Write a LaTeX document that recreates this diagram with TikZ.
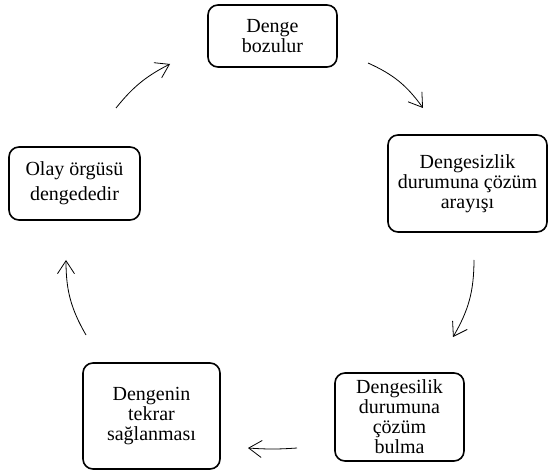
\documentclass[tikz,border=0pt]{standalone}
\usepackage{fontspec}
\setmainfont{Liberation Serif}
\usetikzlibrary{positioning, arrows.meta}

\begin{document}
\begin{tikzpicture}[x=1pt,y=1pt,
    box/.style={draw, line width=1.6pt, rounded corners=10pt, align=center,
      inner sep=0pt, font=\fontsize{20}{20}\selectfont},
    arr/.style={line width=0.8pt, -{Straight Barb[length=13pt,width=17pt]}}]
      \useasboundingbox (0,0) rectangle (548,474);
      \node[box, minimum width=129pt, minimum height=62pt] (bozulur) at (272.5,438) {Denge\\bozulur};
      \node[box, minimum width=159pt, minimum height=97pt] (arayis) at (467.5,290.5) {Dengesizlik\\durumuna çözüm\\arayışı};
      \node[box, minimum width=129pt, minimum height=88pt] (bulma) at (399.5,57) {Dengesilik\\durumuna\\çözüm\\bulma};
      \node[box, minimum width=137pt, minimum height=106pt] (saglanma) at (151.5,58) {Dengenin\\tekrar\\sağlanması};
      \node[box, minimum width=131pt, minimum height=73pt] (orgu) at (74.5,290.5) {Olay örgüsü\\[5pt]dengededir};
      \coordinate (a1s) at (368,411);
      \coordinate (a1e) at (423,366);
      \coordinate (a2s) at (474,214);
      \coordinate (a2e) at (453,137);
      \coordinate (a3s) at (297,26);
      \coordinate (a3e) at (248,26);
      \coordinate (a4s) at (86,139);
      \coordinate (a4e) at (66,214);
      \coordinate (a5s) at (116,366);
      \coordinate (a5e) at (170,410);
      \draw[arr] (a1s) to[bend left=15] (a1e);
      \draw[arr] (a2s) to[bend left=15] (a2e);
      \draw[arr] (a3s) to[bend left=4] (a3e);
      \draw[arr] (a4s) to[bend left=15] (a4e);
      \draw[arr] (a5s) to[bend left=12] (a5e);
    \end{tikzpicture}
\end{document}
